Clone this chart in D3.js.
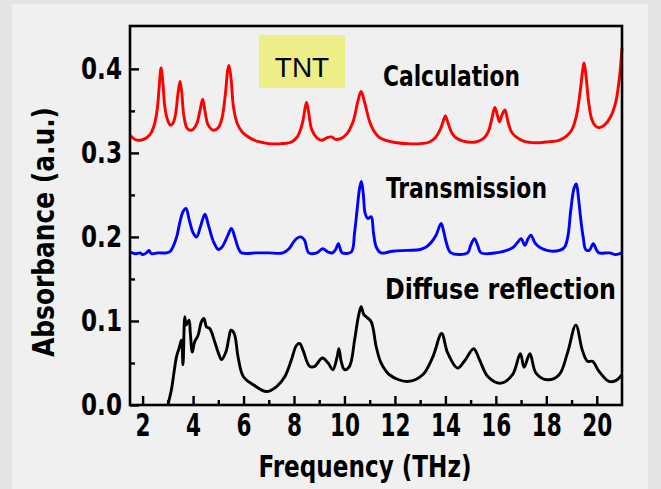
<!DOCTYPE html>
<html>
<head>
<meta charset="utf-8">
<script src="https://cdn.jsdelivr.net/npm/d3@7"></script>
<style>
	body {margin: 0; background: #f0f0f0}
	svg {display: block}
	.tick text {font-family: "DejaVu Sans Condensed", "DejaVu Sans", sans-serif; font-weight: bold; fill: #000}
	.lbl {font-family: "DejaVu Sans Condensed", "DejaVu Sans", sans-serif; font-weight: bold; fill: #000}
</style>
</head>
<body>
<svg width="661" height="489"></svg>
<script>
'use strict';
// values: [frequency THz, absorbance]
let aCalc = [
	[1.5,0.321],[1.7,0.316],[1.9,0.315],[2.1,0.317],[2.3,0.322],[2.45,0.332],[2.58,0.352],[2.66,0.38],[2.73,0.401],
	[2.8,0.385],[2.88,0.355],[2.98,0.34],[3.1,0.333],[3.2,0.335],[3.3,0.345],[3.4,0.37],[3.48,0.385],[3.55,0.372],
	[3.63,0.345],[3.75,0.33],[3.87,0.327],[4.0,0.328],[4.15,0.335],[4.27,0.35],[4.38,0.364],[4.48,0.348],[4.6,0.333],
	[4.8,0.327],[5.0,0.33],[5.15,0.342],[5.28,0.37],[5.37,0.398],[5.42,0.404],[5.5,0.39],[5.6,0.355],[5.75,0.335],
	[5.97,0.324],[6.3,0.317],[6.64,0.313],[7.0,0.311],[7.5,0.311],[7.9,0.313],[8.15,0.32],[8.33,0.335],[8.45,0.355],
	[8.5,0.36],[8.58,0.348],[8.7,0.328],[8.9,0.318],[9.1,0.315],[9.3,0.318],[9.49,0.319],[9.65,0.316],[9.85,0.317],
	[10.1,0.323],[10.35,0.338],[10.52,0.36],[10.66,0.373],[10.8,0.36],[10.99,0.338],[11.15,0.327],[11.4,0.318],
	[11.9,0.313],[12.5,0.311],[13.0,0.311],[13.37,0.313],[13.6,0.318],[13.8,0.328],[13.95,0.341],[14.0,0.344],
	[14.1,0.336],[14.25,0.324],[14.42,0.318],[14.7,0.314],[15.2,0.313],[15.5,0.317],[15.7,0.325],[15.85,0.342],
	[15.96,0.354],[16.06,0.345],[16.14,0.337],[16.24,0.345],[16.36,0.351],[16.48,0.337],[16.62,0.325],[16.8,0.319],
	[17.1,0.314],[17.6,0.312],[18.0,0.313],[18.5,0.315],[18.8,0.32],[19.02,0.328],[19.2,0.345],[19.35,0.375],
	[19.45,0.4],[19.5,0.407],[19.58,0.39],[19.68,0.36],[19.8,0.34],[19.95,0.332],[20.09,0.33],[20.3,0.333],
	[20.55,0.343],[20.75,0.36],[20.9,0.39],[21.0,0.425]]

let aTrans = [
	[1.5,0.182],[1.7,0.18],[1.9,0.181],[2.0,0.179],[2.15,0.181],[2.25,0.184],[2.35,0.18],[2.6,0.181],[2.95,0.181],
	[3.1,0.183],[3.2,0.188],[3.35,0.2],[3.48,0.218],[3.6,0.23],[3.72,0.234],[3.85,0.22],[4.0,0.205],[4.14,0.2],
	[4.3,0.213],[4.47,0.227],[4.6,0.215],[4.8,0.195],[5.0,0.185],[5.15,0.188],[5.35,0.2],[5.52,0.21],[5.65,0.2],
	[5.8,0.186],[5.92,0.181],[6.5,0.181],[7.0,0.181],[7.56,0.181],[7.8,0.186],[7.96,0.193],[8.1,0.198],[8.27,0.2],
	[8.42,0.196],[8.5,0.187],[8.58,0.181],[8.9,0.181],[9.13,0.186],[9.35,0.182],[9.53,0.181],[9.65,0.185],
	[9.76,0.192],[9.85,0.184],[9.91,0.181],[10.27,0.182],[10.4,0.205],[10.5,0.232],[10.6,0.258],[10.67,0.266],
	[10.75,0.25],[10.82,0.228],[10.93,0.222],[11.06,0.224],[11.15,0.205],[11.26,0.188],[11.45,0.181],[11.9,0.183],
	[12.5,0.184],[13.0,0.185],[13.24,0.188],[13.45,0.194],[13.63,0.202],[13.83,0.216],[13.93,0.207],[14.03,0.194],
	[14.22,0.181],[14.88,0.181],[15.0,0.19],[15.15,0.198],[15.28,0.19],[15.41,0.181],[16.0,0.181],[16.66,0.187],
	[16.85,0.193],[17.0,0.198],[17.15,0.19],[17.28,0.198],[17.39,0.202],[17.55,0.193],[17.72,0.188],[18.25,0.183],
	[18.7,0.187],[18.85,0.2],[18.97,0.232],[19.1,0.258],[19.19,0.263],[19.28,0.245],[19.37,0.22],[19.47,0.198],
	[19.56,0.185],[19.7,0.184],[19.86,0.192],[19.98,0.185],[20.09,0.181],[20.5,0.181],[20.75,0.179],[21.0,0.181]]

let aDiffuse = [
	[3.0,0.0],[3.14,0.018],[3.25,0.04],[3.34,0.057],[3.45,0.068],[3.54,0.077],[3.6,0.048],[3.67,0.105],[3.72,0.095],
	[3.76,0.097],[3.84,0.101],[3.89,0.086],[3.97,0.063],[4.06,0.075],[4.2,0.083],[4.33,0.099],[4.43,0.103],
	[4.53,0.093],[4.66,0.091],[4.86,0.075],[5.0,0.062],[5.13,0.054],[5.3,0.063],[5.42,0.08],[5.5,0.089],[5.63,0.085],
	[5.79,0.056],[5.99,0.034],[6.39,0.024],[6.91,0.016],[7.31,0.022],[7.64,0.034],[7.9,0.054],[8.1,0.071],
	[8.23,0.073],[8.36,0.065],[8.62,0.046],[8.82,0.046],[9.12,0.056],[9.35,0.05],[9.54,0.042],[9.7,0.056],
	[9.78,0.067],[9.87,0.052],[10.0,0.042],[10.2,0.046],[10.4,0.077],[10.55,0.105],[10.66,0.117],[10.76,0.108],
	[10.86,0.105],[11.06,0.099],[11.26,0.069],[11.45,0.05],[11.78,0.036],[12.5,0.028],[13.1,0.036],[13.5,0.057],
	[13.85,0.085],[14.09,0.062],[14.48,0.044],[14.75,0.052],[15.12,0.067],[15.35,0.054],[15.68,0.034],[16.2,0.026],
	[16.66,0.036],[16.97,0.061],[17.12,0.045],[17.35,0.061],[17.59,0.038],[18.05,0.03],[18.51,0.036],[18.84,0.062],
	[19.17,0.095],[19.43,0.065],[19.63,0.052],[19.83,0.052],[20.09,0.04],[20.48,0.028],[20.75,0.029],[21.0,0.036]]

let aXTicks = [2, 4, 6, 8, 10, 12, 14, 16, 18, 20]
let aXMinor = [3, 5, 7, 9, 11, 13, 15, 17, 19]
let aYTicks = [0.0, 0.1, 0.2, 0.3, 0.4]
let aYMinor = [0.05, 0.15, 0.25, 0.35]

let aSeries = [
	{name: "Calculation", data: aCalc, color: "#ff0000", lx: 383, ly: 86, len: 137},
	{name: "Transmission", data: aTrans, color: "#0000ff", lx: 386, ly: 198, len: 161},
	{name: "Diffuse reflection", data: aDiffuse, color: "#000000", lx: 385, ly: 299, len: 231}]

let eSvg = d3.select("svg")
let dLeft = 130, dRight = 622, dTop = 26, dBottom = 405

// grey frame strips around the figure
eSvg.append("rect").attr("x", 0).attr("y", 0).attr("width", 661).attr("height", 4).attr("fill", "#e4e4e4")
eSvg.append("rect").attr("x", 0).attr("y", 0).attr("width", 12).attr("height", 489).attr("fill", "#e4e4e4")
eSvg.append("rect").attr("x", 648).attr("y", 0).attr("width", 13).attr("height", 489).attr("fill", "#e4e4e4")

let sX = d3.scaleLinear().domain([1.5, 21]).range([dLeft, dRight])
let sY = d3.scaleLinear().domain([0, 0.451]).range([dBottom, dTop])

// TNT tag
eSvg.append("rect").attr("x", 259).attr("y", 35).attr("width", 86).attr("height", 53).attr("fill", "#eeee88")
eSvg.append("text").attr("x", 302).attr("y", 77).attr("text-anchor", "middle")
	.attr("font-family", "'Liberation Sans', Arial, sans-serif").attr("font-size", 28).text("TNT")

// curves
let line = d3.line().x(d => sX(d[0])).y(d => sY(d[1])).curve(d3.curveCatmullRom.alpha(0.5))
eSvg.append("g").selectAll("path").data(aSeries).enter().append("path")
	.attr("d", d => line(d.data))
	.attr("fill", "none")
	.attr("stroke", d => d.color)
	.attr("stroke-width", 2.9)
	.attr("stroke-linejoin", "round")

// series labels
eSvg.append("g").selectAll("text").data(aSeries).enter().append("text")
	.attr("class", "lbl")
	.attr("x", d => d.lx).attr("y", d => d.ly)
	.attr("font-size", 28)
	.attr("textLength", d => d.len).attr("lengthAdjust", "spacingAndGlyphs")
	.text(d => d.name)

// axes, ticks pointing inward
let gX = eSvg.append("g").attr("transform", `translate(0,${dBottom})`)
	.call(d3.axisBottom(sX).tickValues(aXTicks).tickSize(-9).tickPadding(8).tickFormat(d3.format("d")))
let gXm = eSvg.append("g").attr("transform", `translate(0,${dBottom})`)
	.call(d3.axisBottom(sX).tickValues(aXMinor).tickSize(-5).tickFormat(""))
let gY = eSvg.append("g").attr("transform", `translate(${dLeft},0)`)
	.call(d3.axisLeft(sY).tickValues(aYTicks).tickSize(-9).tickPadding(8).tickFormat(d3.format(".1f")))
let gYm = eSvg.append("g").attr("transform", `translate(${dLeft},0)`)
	.call(d3.axisLeft(sY).tickValues(aYMinor).tickSize(-5).tickFormat(""))
for (let g of [gX, gXm, gY, gYm]) {
	g.select(".domain").remove()
	g.selectAll("line").attr("stroke", "#000").attr("stroke-width", 2.4)}
gX.selectAll("text").attr("font-size", 32)
	.attr("textLength", d => String(d).length * 15).attr("lengthAdjust", "spacingAndGlyphs")
gY.selectAll("text").attr("font-size", 30).attr("textLength", 41).attr("lengthAdjust", "spacingAndGlyphs")

// frame
eSvg.append("rect").attr("x", dLeft).attr("y", dTop)
	.attr("width", dRight - dLeft).attr("height", dBottom - dTop)
	.attr("fill", "none").attr("stroke", "#000").attr("stroke-width", 2.6)

// axis titles
eSvg.append("text").attr("class", "lbl").attr("x", 365).attr("y", 477)
	.attr("text-anchor", "middle").attr("font-size", 30)
	.attr("textLength", 213).attr("lengthAdjust", "spacingAndGlyphs")
	.text("Frequency (THz)")
eSvg.append("text").attr("class", "lbl")
	.attr("transform", "translate(54,232) rotate(-90)")
	.attr("text-anchor", "middle").attr("font-size", 31)
	.attr("textLength", 250).attr("lengthAdjust", "spacingAndGlyphs")
	.text("Absorbance (a.u.)")
</script>
</body>
</html>
